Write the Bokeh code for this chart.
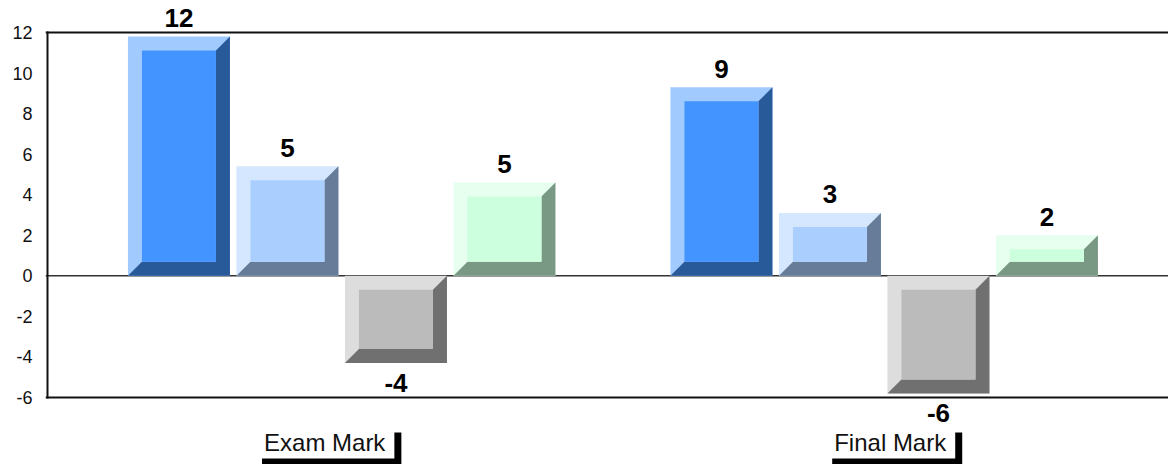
from bokeh.plotting import figure
from bokeh.models import Range1d, FixedTicker, Span, LabelSet, Label, ColumnDataSource
from bokeh.core.properties import value
from bokeh.embed import file_html
from bokeh.resources import INLINE

# ---------------- data ----------------
categories = ["Exam Mark", "Final Mark"]
series_1 = [11.8, 9.3]
series_2 = [5.4, 3.1]
series_3 = [-4.3, -5.8]
series_4 = [4.6, 2.0]
y_ticks = [-6, -4, -2, 0, 2, 4, 6, 8, 10, 12]

series = [series_1, series_2, series_3, series_4]
face_colors = ["#4394FF", "#AACFFF", "#BBBBBB", "#CCFFDD"]

# ---------------- layout / style ----------------
W, H = 1168, 464
FRAME_LEFT = 45
Y_MIN, Y_MAX = -6, 12
PLOT_TOP_PX, PLOT_BOTTOM_PX = 32, 397      # where y=12 and y=-6 sit
PX_PER_Y = (PLOT_BOTTOM_PX - PLOT_TOP_PX) / float(Y_MAX - Y_MIN)
STEP_PX = 108.5          # distance between neighbouring bars
GROUP_GAP = 5            # group spacing in bar steps
BAR_W = 102 / STEP_PX
FIRST_GROUP_PX = 341.2   # first group centre (canvas px)
AXIS_LINE_PX = 47
BEVEL = 14
FONT = "Liberation Sans"


def mix(c, t, f):
    r, g, b = int(c[1:3], 16), int(c[3:5], 16), int(c[5:7], 16)
    return "#%02x%02x%02x" % tuple(int(round(v + (t - v) * f)) for v in (r, g, b))


light_colors = [mix(c, 255, 0.5) for c in face_colors]
dark_colors = [mix(c, 0, 0.4) for c in face_colors]

x_start = -(FIRST_GROUP_PX - FRAME_LEFT) / STEP_PX
x_end = x_start + (W - FRAME_LEFT) / STEP_PX
y_end = Y_MAX + PLOT_TOP_PX / PX_PER_Y
y_start = Y_MIN - (H - PLOT_BOTTOM_PX) / PX_PER_Y

p = figure(width=W, height=H, output_backend="svg", toolbar_location=None, title=None,
           x_range=Range1d(x_start, x_end), y_range=Range1d(y_start, y_end),
           min_border_left=FRAME_LEFT, min_border_right=0, min_border_top=0,
           min_border_bottom=0)
p.outline_line_color = None
p.xgrid.visible = False
p.ygrid.visible = False
p.xaxis.visible = False
p.background_fill_color = "white"
p.border_fill_color = "white"

ya = p.yaxis[0]
ya.ticker = FixedTicker(ticks=y_ticks)
ya.major_label_overrides = {t: str(t) for t in y_ticks}
ya.major_tick_out = 0
ya.major_tick_in = 0
ya.minor_tick_out = 0
ya.minor_tick_in = 0
ya.axis_line_color = None
ya.major_label_standoff = 13
ya.major_label_text_font = FONT
ya.major_label_text_font_size = "18px"
ya.major_label_text_color = "#111111"

# zero line under the bars
p.add_layout(Span(location=0, dimension="width", line_color="#333333", line_width=1.5,
                  level="underlay"))
# frame lines: top, bottom, left
p.add_layout(Span(location=Y_MAX, dimension="width", line_color="#111111", line_width=2))
p.add_layout(Span(location=Y_MIN, dimension="width", line_color="#111111", line_width=2))
x_axis_line = x_start + (AXIS_LINE_PX - FRAME_LEFT) / STEP_PX
p.segment(x0=[x_axis_line], y0=[Y_MIN], x1=[x_axis_line], y1=[Y_MAX],
          line_color="#111111", line_width=2, line_cap="square")

bx = BEVEL / STEP_PX
by = BEVEL / PX_PER_Y

centers, vals, lefts, rights, tops, bottoms = [], [], [], [], [], []
lc, fc, dc = [], [], []
dxs, dys = [], []
il, ir, it, ib = [], [], [], []
for gi in range(len(categories)):
    for si, s in enumerate(series):
        v = s[gi]
        xc = gi * GROUP_GAP + (si - (len(series) - 1) / 2)
        L, R = xc - BAR_W / 2, xc + BAR_W / 2
        T, B = max(v, 0), min(v, 0)
        centers.append(xc); vals.append(v)
        lefts.append(L); rights.append(R); tops.append(T); bottoms.append(B)
        lc.append(light_colors[si]); fc.append(face_colors[si]); dc.append(dark_colors[si])
        dxs.append([R, R, L, L + bx, R - bx, R - bx])
        dys.append([T, B, B, B + by, B + by, T - by])
        il.append(L + bx); ir.append(R - bx); it.append(T - by); ib.append(B + by)

p.quad(left=lefts, right=rights, top=tops, bottom=bottoms, fill_color=lc, line_color=None)
p.patches(xs=dxs, ys=dys, fill_color=dc, line_color=None)
p.quad(left=il, right=ir, top=it, bottom=ib, fill_color=fc, line_color=None)

# value labels
lab_src = ColumnDataSource(dict(
    x=centers, y=vals,
    text=[str(int(round(v))) for v in vals],
    off=[9.5 if v >= 0 else -29 for v in vals],
))
p.add_layout(LabelSet(x="x", y="y", text="text", y_offset="off", source=lab_src,
                      text_align="center", text_baseline="alphabetic",
                      text_font=value(FONT), text_font_size="26px",
                      text_font_style="bold", text_color="black"))

# category labels with drop shadow
LABEL_SHIFT_PX = [-17, 6]
SHADOW = 7
y_lab = Y_MIN - 44.5 / PX_PER_Y
for gi, cat in enumerate(categories):
    xc = gi * GROUP_GAP
    for shadow in (True, False):
        p.add_layout(Label(
            x=xc, y=y_lab,
            x_offset=LABEL_SHIFT_PX[gi] + (SHADOW if shadow else 0),
            y_offset=-SHADOW if shadow else 0,
            text=cat, text_align="center", text_baseline="middle",
            text_font=FONT, text_font_size="24px", text_color="#111111",
            background_fill_color="black" if shadow else "white",
            padding=dict(left=9, right=9, top=3, bottom=3),
        ))

open("out.html", "w").write(file_html(p, INLINE))
